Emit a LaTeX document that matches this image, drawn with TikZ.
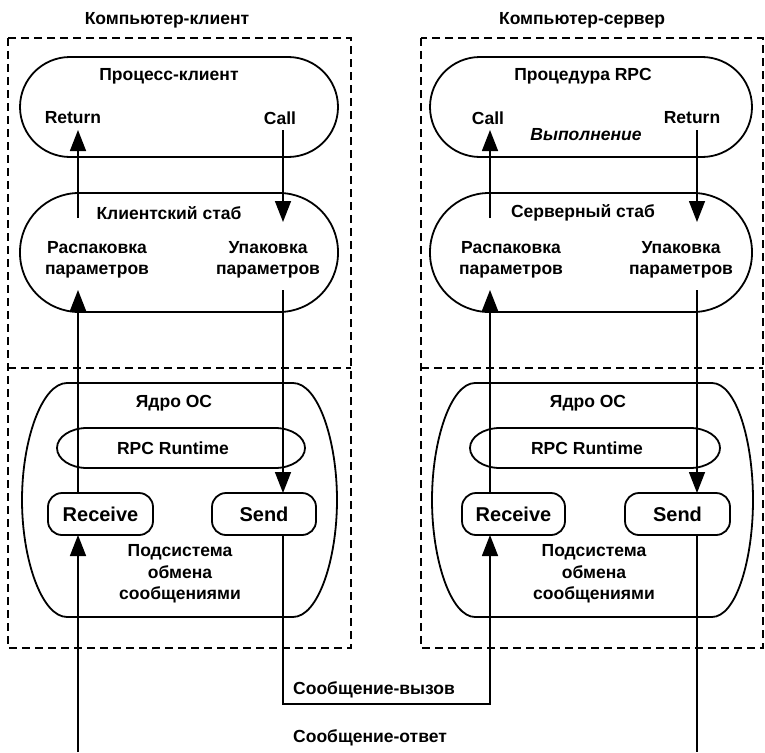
\documentclass[tikz,border=0pt]{standalone}
\usepackage{fontspec}
\setmainfont{Liberation Sans}
\usetikzlibrary{arrows.meta}
\newcommand\lblfont{\fontsize{17.5}{21.5}\selectfont\bfseries}
\newcommand\portfont{\fontsize{20}{24}\selectfont\bfseries}
\tikzset{
  hostbox/.style={draw, line width=1.5pt, dash pattern=on 8pt off 5pt},
  capsule/.style={draw, line width=1.8pt, inner sep=0pt},
  shapeline/.style={draw, line width=1.8pt},
  portbox/.style={draw, line width=1.8pt, rounded corners=14pt, inner sep=0pt,
                  minimum height=42pt, font=\portfont},
  lbl/.style={inner sep=0pt, align=center, font=\lblfont},
  flow/.style={line width=1.5pt, -{Triangle[length=21pt,width=16pt]}},
  wire/.style={line width=1.5pt}
}
\begin{document}
\begin{tikzpicture}[x=1pt,y=-1pt]
\useasboundingbox (0,0) rectangle (765,752);

% ---------- host frames ----------
\draw[hostbox] (8,38) rectangle (351,648);
\draw[hostbox] (8,368) -- (351,368);
\draw[hostbox] (421,38) rectangle (763,648);
\draw[hostbox] (421,368) -- (763,368);
\node[lbl] (tcl) at (167,20) {Компьютер-клиент};
\node[lbl] (tsv) at (582,20) {Компьютер-сервер};

% ---------- client: process and stub ----------
\node[capsule, rounded corners=50pt, minimum width=318pt, minimum height=100pt] (cproc) at (179,107) {};
\node[capsule, rounded corners=59pt, minimum width=318pt, minimum height=119pt] (cstub) at (179,252.5) {};
\node[lbl] (cprocT) at (169,76) {Процесс-клиент};
\node[lbl] (cret) at (73,118) {Return};
\node[lbl] (ccall) at (280,118) {Call};
\node[lbl] (cstubT) at (169,213) {Клиентский стаб};
\node[lbl] (cunp) at (97,260) {Распаковка\\параметров};
\node[lbl] (cpack) at (268,260) {Упаковка\\параметров};

% ---------- server: procedure and stub ----------
\node[capsule, rounded corners=50pt, minimum width=322pt, minimum height=100pt] (sproc) at (591,107) {};
\node[capsule, rounded corners=59pt, minimum width=322pt, minimum height=119pt] (sstub) at (591,252.5) {};
\node[lbl] (sprocT) at (583,76) {Процедура RPC};
\node[lbl] (scall) at (488,118) {Call};
\node[lbl, font=\lblfont\itshape] (sexec) at (586,135) {Выполнение};
\node[lbl] (sret) at (692,118) {Return};
\node[lbl] (sstubT) at (583,213) {Серверный стаб};
\node[lbl] (sunp) at (511,260) {Распаковка\\параметров};
\node[lbl] (spack) at (681,260) {Упаковка\\параметров};

% ---------- OS kernels ----------
\draw[shapeline] (67,383) -- (293,383) .. controls (318,383) and (337,440) .. (337,500)
  .. controls (337,560) and (318,617) .. (293,617) -- (67,617)
  .. controls (42,617) and (22,560) .. (22,500) .. controls (22,440) and (42,383) .. (67,383) -- cycle;
\draw[shapeline] (475,383) -- (712,383) .. controls (736,383) and (753,440) .. (753,500)
  .. controls (753,560) and (736,617) .. (712,617) -- (475,617)
  .. controls (451,617) and (432,560) .. (432,500) .. controls (432,440) and (451,383) .. (475,383) -- cycle;
\node[lbl] (ckern) at (174,403) {Ядро ОС};
\node[lbl] (skern) at (588,403) {Ядро ОС};

% RPC runtime rings (half-ellipse ends, 30 x 20)
\draw[shapeline] (87,428) -- (275,428) .. controls (291.6,428) and (305,437) .. (305,448)
  .. controls (305,459) and (291.6,468) .. (275,468) -- (87,468)
  .. controls (70.4,468) and (57,459) .. (57,448) .. controls (57,437) and (70.4,428) .. (87,428) -- cycle;
\draw[shapeline] (500,428) -- (690,428) .. controls (706.6,428) and (720,437) .. (720,448)
  .. controls (720,459) and (706.6,468) .. (690,468) -- (500,468)
  .. controls (483.4,468) and (470,459) .. (470,448) .. controls (470,437) and (483.4,428) .. (500,428) -- cycle;
\node[lbl] (crt) at (173,448) {RPC Runtime};
\node[lbl] (srt) at (587,448) {RPC Runtime};

% ports
\node[portbox, minimum width=105pt] (crecv) at (100.5,514) {Receive};
\node[portbox, minimum width=104pt] (csend) at (264,514) {Send};
\node[portbox, minimum width=103pt] (srecv) at (513.5,514) {Receive};
\node[portbox, minimum width=105pt] (ssend) at (677.5,514) {Send};
\node[lbl] (cmsg) at (180,574) {Подсистема\\обмена\\сообщениями};
\node[lbl] (smsg) at (594,574) {Подсистема\\обмена\\сообщениями};

% ---------- connector end points ----------
\coordinate (c1a) at (78,218);  \coordinate (c1b) at (78,130);
\coordinate (c2a) at (283,130); \coordinate (c2b) at (283,222);
\coordinate (c3a) at (78,493);  \coordinate (c3b) at (78,290);
\coordinate (c4a) at (283,290); \coordinate (c4b) at (283,493);
\coordinate (c5a) at (78,752);  \coordinate (c5b) at (78,535);
\coordinate (c6a) at (283,535); \coordinate (c6b) at (283,704);
\coordinate (s1a) at (490,218); \coordinate (s1b) at (490,130);
\coordinate (s2a) at (697,130); \coordinate (s2b) at (697,222);
\coordinate (s3a) at (490,493); \coordinate (s3b) at (490,290);
\coordinate (s4a) at (697,290); \coordinate (s4b) at (697,493);
\coordinate (s5a) at (490,704); \coordinate (s5b) at (490,535);
\coordinate (s6a) at (697,535); \coordinate (s6b) at (697,752);

% client flow
\draw[flow] (c1a) -- (c1b);
\draw[flow] (c2a) -- (c2b);
\draw[flow] (c3a) -- (c3b);
\draw[flow] (c4a) -- (c4b);
\draw[flow] (c5a) -- (c5b);
% call message from client to server
\draw[flow] (c6a) -- (c6b) -- (s5a) -- (s5b);
% server flow
\draw[flow] (s1a) -- (s1b);
\draw[flow] (s2a) -- (s2b);
\draw[flow] (s3a) -- (s3b);
\draw[flow] (s4a) -- (s4b);
\draw[wire] (s6a) -- (s6b);

\node[lbl, anchor=west] (mcall) at (293,690) {Сообщение-вызов};
\node[lbl, anchor=west] (mreply) at (293,738) {Сообщение-ответ};
\end{tikzpicture}
\end{document}
